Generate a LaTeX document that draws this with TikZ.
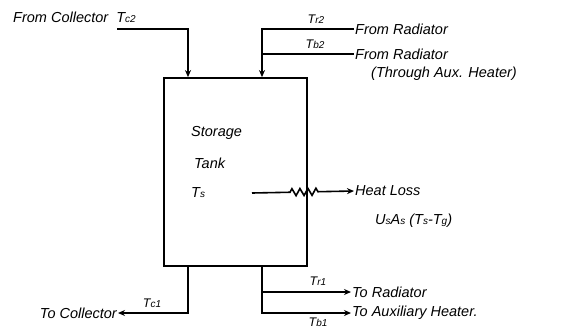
\documentclass[tikz,border=0pt]{standalone}
\usepackage{fontspec}
\setmainfont{Liberation Sans}
\usetikzlibrary{arrows.meta, decorations.pathmorphing}
\tikzset{
  every node/.style={font=\itshape\fontsize{14.5}{16}\selectfont, inner sep=1pt},
  tank/.style  = {rectangle, draw, line width=1.8pt, minimum width=143pt, minimum height=188pt},
  lbl/.style   = {anchor=west},
  tlbl/.style  = {font=\itshape\fontsize{12.5}{13}\selectfont},
  pipe/.style  = {line width=1.6pt},
  arrow/.style = {pipe, -{Stealth[length=7pt,width=6pt]}},
  zig/.style   = {decorate, decoration={zigzag, segment length=8pt, amplitude=3.5pt,
                  pre length=38pt, post length=33pt}},
}
\newcommand{\sub}[1]{{\fontsize{10}{10}\selectfont #1}}

\begin{document}
\begin{tikzpicture}[x=1pt, y=-1pt]
  \useasboundingbox (0,0) rectangle (575,330);

  % storage tank
  \node[tank] (tank) at (235.5,172) {};
  \node[lbl] (storage) at (190,133) {Storage};
  \node[lbl] (tanklbl) at (193,163) {Tank};
  \node[lbl] (ts)      at (190,193) {T\sub{s}};

  % pipe positions
  \coordinate (cx) at (188,0);
  \coordinate (rx) at (262,0);

  % inlets
  \coordinate (cin) at (117,29);
  \node[lbl] (fromcol)  at (12,17)  {From Collector\hspace{8pt}T\sub{c2}};
  \node[lbl] (fromrad)  at (354,29) {From Radiator};
  \node[lbl] (fromaux)  at (354,54) {From Radiator};
  \node[lbl] (through)  at (370,74) {(Through Aux. Heater)};
  \node[tlbl] (tr2) at (316,19) {T\sub{r2}};
  \node[tlbl] (tb2) at (315,44) {T\sub{b2}};

  \draw[arrow] (cin) -| (tank.north -| cx);
  \draw[arrow] (fromrad.west) -| (tank.north -| rx);
  \draw[pipe]  (fromaux.west) -- (fromaux.west -| rx);

  % heat loss
  \coordinate (lossin) at (252,193);
  \node[lbl] (heatloss) at (354,191) {Heat Loss};
  \node[lbl] (ua)       at (374,221) {U\sub{s}A\sub{s} (T\sub{s}-T\sub{g})};
  \draw[arrow, zig] (lossin) -- (heatloss.west);

  % outlets
  \node[anchor=east] (tocol) at (118,313) {To Collector};
  \node[lbl] (torad) at (351,292) {To Radiator};
  \node[lbl] (toaux) at (351,313) {To Auxiliary Heater.};
  \node[tlbl] (tc1) at (152,303) {T\sub{c1}};
  \node[tlbl] (tr1) at (318,281) {T\sub{r1}};
  \node[tlbl] (tb1) at (318,322) {T\sub{b1}};

  \draw[arrow] (tank.south -| cx) |- (tocol.east);
  \draw[arrow] (tank.south -| rx) |- (toaux.west);
  \draw[arrow] (torad.west -| rx) -- (torad.west);
\end{tikzpicture}
\end{document}
